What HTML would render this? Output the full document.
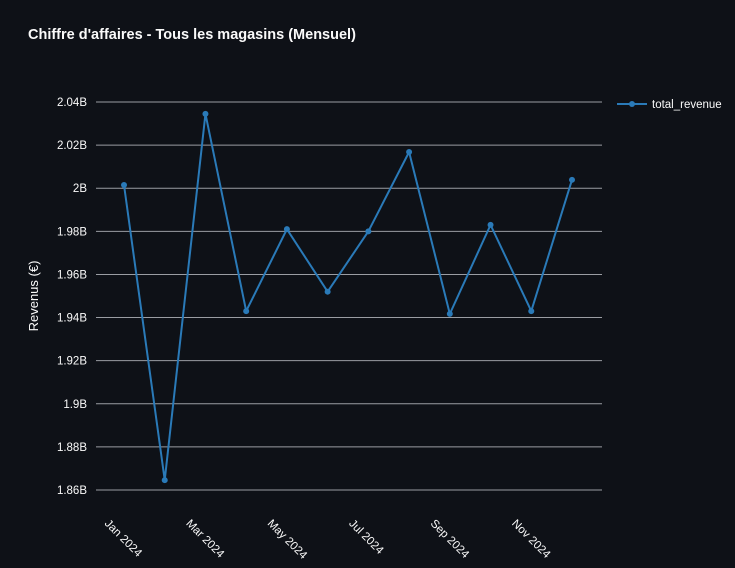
<!DOCTYPE html>
<html><head><meta charset="utf-8">
<style>
html,body{margin:0;padding:0;background:#0e1117;}
body{width:735px;height:563px;overflow:hidden;font-family:"Liberation Sans",sans-serif;}
</style></head>
<body>
<svg id="chart" width="735" height="563" xmlns="http://www.w3.org/2000/svg">
<rect width="735" height="563" fill="#0e1117"/>
<text x="28" y="39" fill="#fafafa" font-size="14.5" font-weight="bold">Chiffre d'affaires - Tous les magasins (Mensuel)</text>
<g id="grid"></g>
<g id="yticks"></g>
<g id="xticks"></g>
<text transform="translate(38,296) rotate(-90)" text-anchor="middle" fill="#fafafa" font-size="13">Revenus (€)</text>
<g id="series"></g>
<g>
<line x1="617" y1="104" x2="647" y2="104" stroke="#2a7ab8" stroke-width="2"/>
<circle cx="632" cy="104" r="3" fill="#2a7ab8"/>
<text x="652" y="108" fill="#fafafa" font-size="11.5">total_revenue</text>
</g>
</svg>
<script>
const months=["Jan 2024","Feb 2024","Mar 2024","Apr 2024","May 2024","Jun 2024","Jul 2024","Aug 2024","Sep 2024","Oct 2024","Nov 2024","Dec 2024"];
const revenue=[2.0015,1.8646,2.0345,1.943,1.981,1.952,1.980,2.0168,1.9417,1.983,1.943,2.0039];
const yTicks=[1.86,1.88,1.9,1.92,1.94,1.96,1.98,2.0,2.02,2.04];
const yTickLabels=["1.86B","1.88B","1.9B","1.92B","1.94B","1.96B","1.98B","2B","2.02B","2.04B"];
const xTickLabelIdx=[0,2,4,6,8,10];
const NS="http://www.w3.org/2000/svg";
const yMin=1.86,yMax=2.04,yTop=102,yBot=490,xL=96,xR=602,x0=124,x1=572;
const ys=v=>yBot-(v-yMin)/(yMax-yMin)*(yBot-yTop);
const xs=i=>x0+i*(x1-x0)/(months.length-1);
function mk(t,a,p){const e=document.createElementNS(NS,t);for(const k in a)e.setAttribute(k,a[k]);p.appendChild(e);return e;}
const grid=document.getElementById('grid'),yt=document.getElementById('yticks'),xt=document.getElementById('xticks'),se=document.getElementById('series');
yTicks.forEach((v,i)=>{
 const l=mk('line',{x1:xL,x2:xR,y1:ys(v),y2:ys(v),stroke:'#9a9da3','stroke-width':1},grid);
 
 
 const t=mk('text',{x:87,y:ys(v)+4,'text-anchor':'end',fill:'#fafafa','font-size':11.5},yt);
 t.textContent=yTickLabels[i];
 
 
});
xTickLabelIdx.forEach(i=>{
 const x=xs(i)-20,y=524;
 const t=mk('text',{x:x,y:y,transform:`rotate(45 ${x} ${y})`,fill:'#fafafa','font-size':11.5},xt);
 t.textContent=months[i];
 
 
});
const pts=revenue.map((v,i)=>xs(i)+','+ys(v)).join(' ');
const pl=mk('polyline',{points:pts,fill:'none',stroke:'#2a7ab8','stroke-width':2,'stroke-linejoin':'round'},se);


revenue.forEach((v,i)=>{
 const c=mk('circle',{cx:xs(i),cy:ys(v),r:3,fill:'#2a7ab8'},se);
 
 
});
</script>
</body></html>
